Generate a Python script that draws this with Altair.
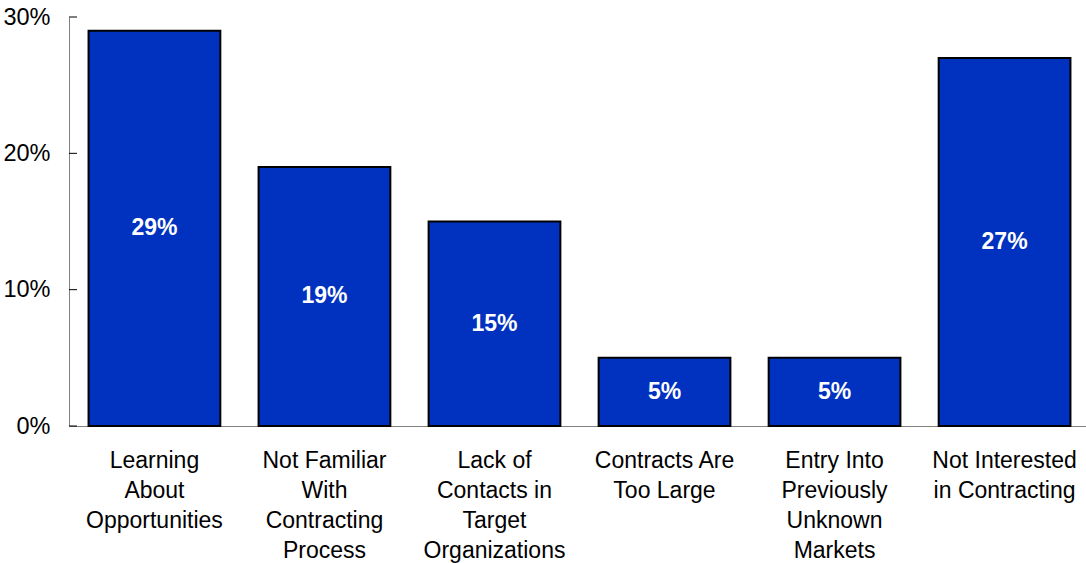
import altair as alt
import pandas as pd

categories = [
    "Learning|About|Opportunities",
    "Not Familiar|With|Contracting|Process",
    "Lack of|Contacts in|Target|Organizations",
    "Contracts Are|Too Large",
    "Entry Into|Previously|Unknown|Markets",
    "Not Interested|in Contracting",
]
values = [29, 19, 15, 5, 5, 27]
y_ticks = [0, 10, 20, 30]

df = pd.DataFrame({"cat": categories, "val": values})
df["half"] = df["val"] / 2
df["lab"] = df["val"].astype(str) + "%"
ticks_df = pd.DataFrame({"t": y_ticks})

FONT = "Liberation Sans"

x_enc = alt.X(
    "cat:N",
    sort=categories,
    scale=alt.Scale(range=[0, 1021], paddingInner=0.225, paddingOuter=0.115),
    axis=alt.Axis(
        title=None,
        ticks=False,
        domainColor="#808080",
        domainWidth=1,
        labelAngle=0,
        labelExpr="split(datum.label, '|')",
        labelFont=FONT,
        labelFontSize=23,
        labelColor="black",
        labelLineHeight=30,
        labelPadding=23,
        labelBaseline="top",
    ),
)
y_scale = alt.Scale(domain=[0, 30], nice=False)

bars = alt.Chart(df).mark_bar(
    color="#0131BF", stroke="black", strokeWidth=2
).encode(
    x=x_enc,
    y=alt.Y(
        "val:Q",
        scale=y_scale,
        axis=alt.Axis(
            title=None,
            values=y_ticks,
            ticks=False,
            grid=False,
            domainColor="#808080",
            domainWidth=1,
            labelExpr="datum.value + '%'",
            labelFont=FONT,
            labelFontSize=23.5,
            labelColor="black",
            labelPadding=19,
        ),
    ),
)

labels = alt.Chart(df).mark_text(
    color="white", font=FONT, fontSize=23, fontWeight="bold", baseline="middle"
).encode(
    x=alt.X("cat:N", sort=categories),
    y=alt.Y("half:Q", scale=y_scale),
    text="lab:N",
)

tick_marks = alt.Chart(ticks_df).mark_rule(color="black", strokeWidth=1).encode(
    y=alt.Y("t:Q", scale=y_scale),
    x=alt.value(0),
    x2=alt.value(8),
)

chart = alt.layer(bars, labels, tick_marks).properties(
    width=1017,
    height=409,
    background="white",
    autosize=alt.AutoSizeParams(type="none"),
    padding={"left": 69, "top": 17, "right": 0, "bottom": 137},
).configure_view(strokeWidth=0, stroke="transparent")

chart.save("out.html", embed_options={"renderer": "svg", "actions": False})
